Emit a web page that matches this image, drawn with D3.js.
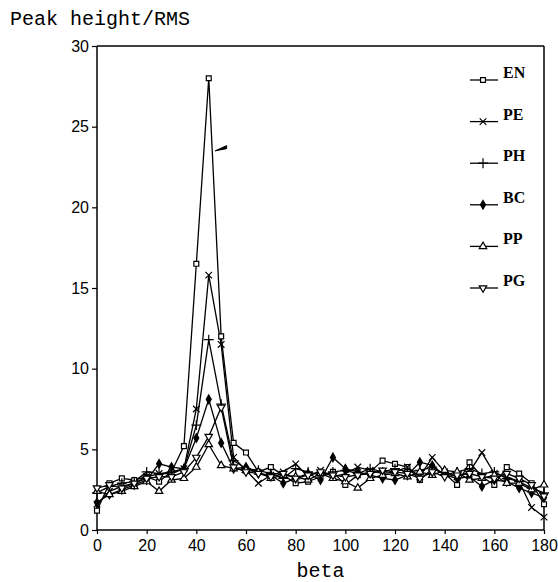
<!DOCTYPE html>
<html>
<head>
<meta charset="utf-8">
<script src="https://cdn.jsdelivr.net/npm/d3@7"></script>
<style>
  body { margin: 0; background: #fff; }
  svg { display: block; }
</style>
</head>
<body>
<svg id="chart"></svg>
<script>
// beta values 0..180, step 5
const beta = [0, 5, 10, 15, 20, 25, 30, 35, 40, 45, 50, 55, 60, 65, 70, 75, 80, 85, 90,
  95, 100, 105, 110, 115, 120, 125, 130, 135, 140, 145, 150, 155, 160, 165, 170, 175, 180];

const EN = [1.2, 2.9, 3.2, 3.1, 3.3, 3.0, 3.6, 5.2, 16.5, 28.0, 12.0, 5.4, 4.8, 3.6, 3.9, 3.4, 2.9, 3.0, 3.3,
  3.6, 2.8, 3.4, 3.6, 4.3, 4.1, 3.9, 3.1, 3.8, 3.5, 2.8, 4.2, 3.3, 2.8, 3.9, 3.5, 2.9, 1.6];
const PE = [1.6, 2.4, 2.7, 2.9, 3.3, 3.5, 3.5, 3.8, 7.5, 15.8, 11.5, 4.5, 3.7, 2.9, 3.4, 3.6, 4.1, 3.3, 3.7,
  3.3, 3.5, 3.9, 3.7, 3.5, 3.6, 3.9, 3.3, 4.5, 3.6, 3.3, 3.6, 4.8, 3.5, 3.3, 3.0, 1.4, 0.8];
const PH = [2.3, 2.7, 2.9, 3.0, 3.6, 3.5, 3.6, 3.8, 6.5, 11.8, 7.8, 4.3, 3.8, 3.7, 3.5, 3.2, 3.8, 3.6, 3.4,
  3.6, 3.7, 3.5, 3.8, 3.6, 3.8, 3.6, 3.7, 3.9, 3.4, 3.6, 3.8, 3.5, 3.6, 3.2, 3.0, 2.6, 2.3];
const BC = [1.7, 2.2, 2.5, 2.8, 3.1, 4.1, 3.9, 3.8, 5.7, 8.1, 5.4, 3.8, 3.9, 3.5, 3.4, 2.9, 3.2, 3.5, 3.1,
  4.5, 3.8, 3.6, 3.4, 3.2, 3.1, 3.4, 4.2, 4.0, 3.4, 3.2, 3.3, 2.7, 3.1, 3.0, 2.6, 2.3, 2.0];
const PP = [2.4, 2.2, 2.4, 2.7, 3.0, 2.4, 3.1, 3.2, 3.9, 5.3, 4.0, 3.8, 3.7, 3.6, 3.2, 3.4, 3.3, 3.1, 3.5,
  3.2, 3.0, 2.6, 3.2, 3.4, 3.5, 3.3, 3.6, 3.4, 3.7, 3.6, 3.1, 3.2, 3.4, 2.9, 2.9, 2.5, 2.8];
const PG = [2.6, 2.8, 2.6, 2.9, 3.2, 3.3, 3.3, 3.6, 4.5, 5.8, 7.6, 3.9, 3.6, 3.5, 3.3, 3.5, 3.2, 3.4, 3.6,
  3.4, 3.3, 3.4, 3.5, 3.7, 3.6, 3.5, 3.2, 3.6, 3.3, 3.4, 3.5, 3.3, 3.2, 3.5, 3.2, 2.8, 2.1];

const seriesNames = ['EN', 'PE', 'PH', 'BC', 'PP', 'PG'];
const seriesValues = [EN, PE, PH, BC, PP, PG];
const xTicks = [0, 20, 40, 60, 80, 100, 120, 140, 160, 180];
const yTicks = [0, 5, 10, 15, 20, 25, 30];

const width = 558, height = 582;
const margin = { top: 46, right: 14, bottom: 52, left: 97 };

const svg = d3.select('#chart')
  .attr('width', width)
  .attr('height', height);

const x = d3.scaleLinear().domain([0, 180]).range([margin.left, width - margin.right]);
const y = d3.scaleLinear().domain([0, 30]).range([height - margin.bottom, margin.top]);

// marker shapes
const markers = {
  EN: { type: d3.symbolSquare, size: 24, fill: '#fff', rot: 0 },
  PE: { type: d3.symbolTimes, size: 30, fill: 'none', rot: 0 },
  PH: { type: d3.symbolPlus, size: 34, fill: 'none', rot: 0 },
  BC: { type: d3.symbolDiamond, size: 22, fill: '#000', rot: 0 },
  PP: { type: d3.symbolTriangle, size: 24, fill: '#fff', rot: 0 },
  PG: { type: d3.symbolTriangle, size: 24, fill: '#fff', rot: 180 }
};

// frame: top and right
svg.append('line')
  .attr('x1', x(0)).attr('x2', x(180)).attr('y1', y(30)).attr('y2', y(30))
  .attr('stroke', '#000').attr('stroke-width', 1.5);
svg.append('line')
  .attr('x1', x(180)).attr('x2', x(180)).attr('y1', y(30)).attr('y2', y(0))
  .attr('stroke', '#000').attr('stroke-width', 1.5);

const xAxis = d3.axisBottom(x).tickValues(xTicks).tickSize(4).tickPadding(6);
const yAxis = d3.axisLeft(y).tickValues(yTicks).tickSize(5).tickPadding(3);

const gx = svg.append('g')
  .attr('transform', `translate(0,${y(0)})`)
  .call(xAxis);
const gy = svg.append('g')
  .attr('transform', `translate(${x(0)},0)`)
  .call(yAxis);

[gx, gy].forEach(g => {
  g.select('.domain').attr('stroke-width', 1.5).attr('d', g === gx
    ? `M${x(0)},0H${x(180)}`
    : `M0,${y(0)}V${y(30)}`);
  g.selectAll('.tick line').attr('stroke-width', 1.2);
  g.selectAll('.tick text')
    .attr('fill', '#000')
    .style('font-family', '"Liberation Sans", Arial, sans-serif')
    .style('font-size', '16px');
});

// lines
const line = d3.line()
  .x((d, i) => x(beta[i]))
  .y(d => y(d));

seriesNames.forEach((name, k) => {
  svg.append('path')
    .datum(seriesValues[k])
    .attr('d', line)
    .attr('fill', 'none')
    .attr('stroke', '#000')
    .attr('stroke-width', 1.3);
});

seriesNames.forEach((name, k) => {
  const m = markers[name];
  svg.append('g')
    .selectAll('path')
    .data(seriesValues[k])
    .join('path')
    .attr('transform', (d, i) => `translate(${x(beta[i])},${y(d)}) rotate(${m.rot})`)
    .attr('d', d3.symbol(m.type, m.size))
    .attr('fill', m.fill)
    .attr('stroke', '#000')
    .attr('stroke-width', 1.2);
});

// small arrow pointing at the EN peak
const arrow = [[47.6, 23.5], [52.2, 23.7]];
svg.append('path')
  .attr('d', `M${x(arrow[0][0])},${y(arrow[0][1])} L${x(arrow[1][0])},${y(arrow[1][1]) - 2} L${x(arrow[1][0])},${y(arrow[1][1]) + 1} Z`)
  .attr('fill', '#000').attr('stroke', '#000').attr('stroke-width', 1);

// legend
const legend = svg.append('g').attr('transform', 'translate(470,80)');
seriesNames.forEach((name, k) => {
  const m = markers[name];
  const g = legend.append('g').attr('transform', `translate(0,${k * 41.6})`);
  g.append('line').attr('x1', 0).attr('x2', 28).attr('y1', 0).attr('y2', 0)
    .attr('stroke', '#000').attr('stroke-width', 1.3);
  g.append('path')
    .attr('transform', `translate(13,0) rotate(${m.rot})`)
    .attr('d', d3.symbol(m.type, m.size))
    .attr('fill', m.fill)
    .attr('stroke', '#000')
    .attr('stroke-width', 1.2);
  g.append('text')
    .attr('x', 33).attr('y', -2)
    .style('font-family', '"Liberation Serif", "Times New Roman", serif')
    .style('font-weight', 'bold')
    .style('font-size', '16px')
    .text(name);
});

// axis titles
svg.append('text')
  .attr('x', 10).attr('y', 25)
  .style('font-family', '"Liberation Mono", "Courier New", monospace')
  .style('font-size', '20px')
  .text('Peak height/RMS');

svg.append('text')
  .attr('x', (x(0) + x(180)) / 2).attr('y', 577)
  .attr('text-anchor', 'middle')
  .style('font-family', '"Liberation Mono", "Courier New", monospace')
  .style('font-size', '20px')
  .text('beta');
</script>
</body>
</html>
